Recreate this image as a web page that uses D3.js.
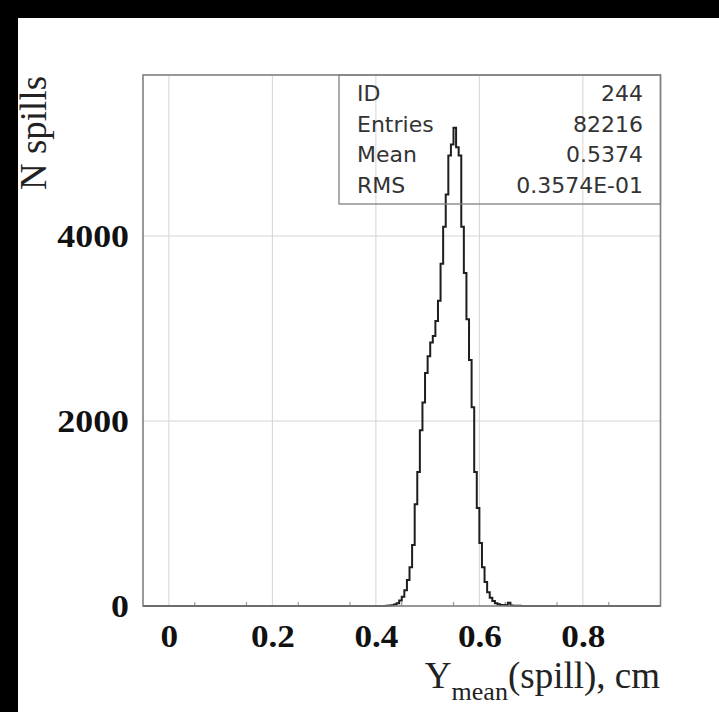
<!DOCTYPE html>
<html>
<head>
<meta charset="utf-8">
<script src="https://cdn.jsdelivr.net/npm/d3@7"></script>
<style>
  html, body { margin: 0; padding: 0; background: #fff; }
  svg { display: block; }
</style>
</head>
<body>
<svg id="chart" width="719" height="712"></svg>
<script>
// ---- data ----
const binWidth = 0.005;
const binLow = [
  0.420, 0.425, 0.430, 0.435, 0.440, 0.445, 0.450, 0.455, 0.460, 0.465,
  0.470, 0.475, 0.480, 0.485, 0.490, 0.495, 0.500, 0.505, 0.510, 0.515,
  0.520, 0.525, 0.530, 0.535, 0.540, 0.545, 0.550, 0.555, 0.560, 0.565,
  0.570, 0.575, 0.580, 0.585, 0.590, 0.595, 0.600, 0.605, 0.610, 0.615,
  0.620, 0.625, 0.630, 0.635, 0.640, 0.645, 0.650, 0.655, 0.660, 0.665,
  0.670, 0.675
];
const counts = [
  3, 5, 8, 15, 30, 60, 100, 170, 280, 420,
  660, 1100, 1450, 1900, 2200, 2520, 2700, 2850, 2920, 3080,
  3300, 3700, 4100, 4450, 4870, 4990, 5170, 4960, 4870, 4100,
  3600, 3100, 2660, 2150, 1450, 1060, 680, 420, 260, 150,
  90, 55, 30, 20, 12, 10, 8, 35, 6, 4,
  3, 2
];
const xTicks = [0, 0.2, 0.4, 0.6, 0.8];
const xMinorTicks = [0.05, 0.15, 0.25, 0.35, 0.45, 0.55, 0.65, 0.75, 0.85];
const yTicks = [0, 2000, 4000];
const yGrid = [2000, 4000];
const xDomain = [-0.05, 0.95];
const yDomain = [0, 5741];
const statLabels = ["ID", "Entries", "Mean", "RMS"];
const statValues = ["244", "82216", "0.5374", "0.3574E-01"];

// ---- layout ----
const L = 143, R = 660.5, T = 75, B = 606;
const svg = d3.select("#chart");
svg.append("rect").attr("width", 719).attr("height", 712).attr("fill", "#fff");

const x = d3.scaleLinear().domain(xDomain).range([L, R]);
const y = d3.scaleLinear().domain(yDomain).range([B, T]);

// grid
const grid = svg.append("g").attr("stroke", "#d4d4d4").attr("stroke-width", 1);
grid.selectAll("line.v").data(xTicks).join("line")
  .attr("x1", d => x(d)).attr("x2", d => x(d)).attr("y1", T).attr("y2", B);
grid.selectAll("line.h").data(yGrid).join("line")
  .attr("x1", L).attr("x2", R).attr("y1", d => y(d)).attr("y2", d => y(d));

// minor ticks
svg.append("g").attr("stroke", "#999").attr("stroke-width", 1.2)
  .selectAll("line").data(xMinorTicks).join("line")
  .attr("x1", d => x(d)).attr("x2", d => x(d)).attr("y1", B).attr("y2", B - 4);

// histogram
const pts = [[xDomain[0], 0], [binLow[0], 0]];
binLow.forEach((lo, i) => {
  pts.push([lo, counts[i]]);
  pts.push([lo + binWidth, counts[i]]);
});
pts.push([binLow[binLow.length - 1] + binWidth, 0]);
pts.push([xDomain[1], 0]);
const line = d3.line().x(d => x(d[0])).y(d => y(d[1]));
svg.append("path").attr("d", line(pts))
  .attr("fill", "none").attr("stroke", "#1e1e1e").attr("stroke-width", 2)
  .attr("stroke-linejoin", "miter");

// frame
svg.append("rect").attr("x", L).attr("y", T).attr("width", R - L).attr("height", B - T)
  .attr("fill", "none").attr("stroke", "#808080").attr("stroke-width", 1.6);

// stats box
const boxL = 339, boxB = 204;
svg.append("rect").attr("x", boxL).attr("y", T).attr("width", R - boxL).attr("height", boxB - T)
  .attr("fill", "none").attr("stroke", "#808080").attr("stroke-width", 1.3);
const rowBase = [101, 131.5, 162, 193];
const st = svg.append("g").attr("font-family", "'DejaVu Sans', sans-serif")
  .attr("font-size", 22).attr("fill", "#333");
st.selectAll("text.l").data(statLabels).join("text")
  .attr("x", 357).attr("y", (d, i) => rowBase[i]).text(d => d);
st.selectAll("text.v").data(statValues).join("text")
  .attr("x", 643).attr("y", (d, i) => rowBase[i]).attr("text-anchor", "end").text(d => d);

// axes
const serif = "'Liberation Serif', 'Times New Roman', serif";
function widen(sel, k) {
  sel.each(function () {
    const len = this.getComputedTextLength();
    d3.select(this).attr("textLength", len * k).attr("lengthAdjust", "spacingAndGlyphs");
  });
}
const xAxis = svg.append("g").attr("transform", `translate(0,${B})`)
  .call(d3.axisBottom(x).tickValues(xTicks).tickSize(0).tickPadding(18)
    .tickFormat(d => d === 0 ? "0" : d3.format(".1f")(d)));
xAxis.select(".domain").remove();
xAxis.selectAll("text").attr("font-family", serif).attr("font-weight", "bold")
  .attr("font-size", 32).attr("fill", "#111").call(widen, 1.1);

const yAxis = svg.append("g").attr("transform", `translate(${L},0)`)
  .call(d3.axisLeft(y).tickValues(yTicks).tickSize(0).tickPadding(14)
    .tickFormat(d3.format("d")));
yAxis.select(".domain").remove();
yAxis.selectAll("text").attr("font-family", serif).attr("font-weight", "bold")
  .attr("font-size", 32).attr("fill", "#111").call(widen, 1.12);

// axis titles
svg.append("text").attr("transform", "translate(46,133) rotate(-90)")
  .attr("text-anchor", "middle").attr("font-family", serif).attr("font-size", 37)
  .attr("fill", "#222").text("N spills");

const xt = svg.append("text").attr("x", 660).attr("y", 688).attr("text-anchor", "end")
  .attr("font-family", serif).attr("font-size", 37).attr("fill", "#222");
xt.append("tspan").text("Y");
xt.append("tspan").attr("dy", 12).attr("font-size", 26).text("mean");
xt.append("tspan").attr("dy", -12).text("(spill), cm");

// black borders
svg.append("rect").attr("x", 0).attr("y", 0).attr("width", 719).attr("height", 18).attr("fill", "#000");
svg.append("rect").attr("x", 0).attr("y", 0).attr("width", 18).attr("height", 712).attr("fill", "#000");
</script>
</body>
</html>
